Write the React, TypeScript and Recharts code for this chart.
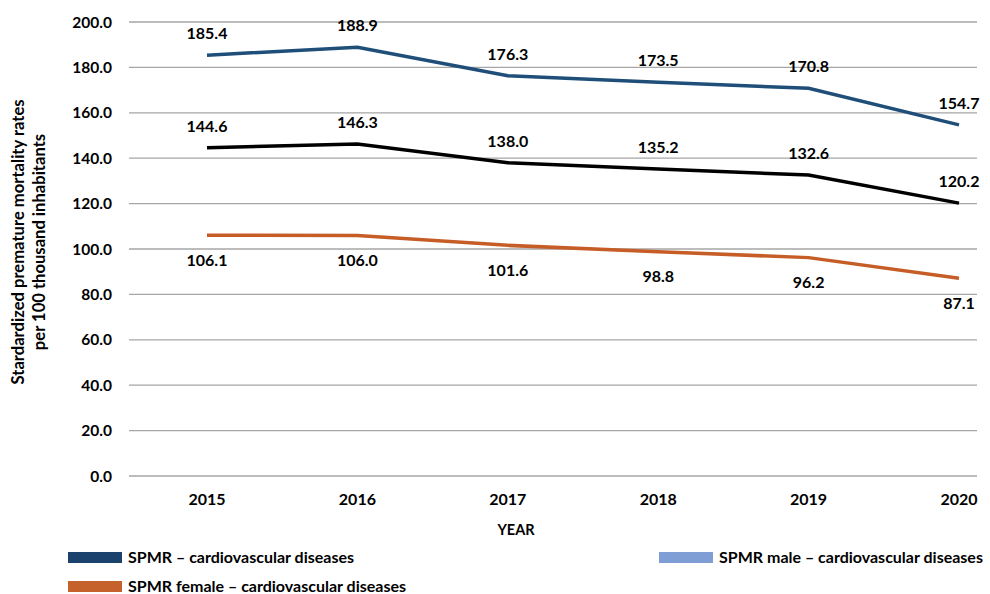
import React from "react";
import { LineChart, Line, XAxis, YAxis, CartesianGrid, Legend, LabelList } from "recharts";

const years = ["2015", "2016", "2017", "2018", "2019", "2020"];
const spmrTop = [185.4, 188.9, 176.3, 173.5, 170.8, 154.7];
const spmrMid = [144.6, 146.3, 138.0, 135.2, 132.6, 120.2];
const spmrFemale = [106.1, 106.0, 101.6, 98.8, 96.2, 87.1];
const yTicks = [0, 20, 40, 60, 80, 100, 120, 140, 160, 180, 200];

const legendItems = [
  { name: "SPMR \u2013 cardiovascular diseases", color: "#1B426D", left: 68, top: 0 },
  { name: "SPMR male \u2013 cardiovascular diseases", color: "#7F9ED5", left: 659, top: 0 },
  { name: "SPMR female \u2013 cardiovascular diseases", color: "#C5612A", left: 68, top: 29 },
];

const data = years.map((year, i) => ({
  year,
  top: spmrTop[i],
  mid: spmrMid[i],
  female: spmrFemale[i],
}));

const FONT = "Lato, 'Open Sans', sans-serif";
const fmt = (v: number) => v.toFixed(1);

const labelStyle = { fill: "#000", fontSize: 16, fontWeight: 700, fontFamily: FONT };

function YTitle() {
  return (
    <text
      transform="translate(0,242) rotate(-90)"
      textAnchor="middle"
      fontFamily={FONT}
      fontSize={16.6}
      fontWeight={700}
      fill="#000"
    >
      <tspan x={0} y={24}>Stardardized premature mortality rates</tspan>
      <tspan x={0} y={45}>per 100 thousand inhabitants</tspan>
    </text>
  );
}

function LegendBox() {
  return (
    <div style={{ position: "relative", width: 990, height: 44, fontFamily: FONT }}>
      {legendItems.map((it) => (
        <div
          key={it.name}
          style={{
            position: "absolute",
            left: it.left,
            top: it.top,
            display: "flex",
            alignItems: "center",
            fontSize: 16,
            fontWeight: 700,
            color: "#000",
            whiteSpace: "nowrap",
            lineHeight: "16px",
          }}
        >
          <span style={{ display: "inline-block", width: 54, height: 11, background: it.color, marginRight: 6 }} />
          {it.name}
        </div>
      ))}
    </div>
  );
}

export default function App() {
  return (
    <div style={{ position: "absolute", left: 0, top: 0, width: 990, height: 594, background: "#fff" }}>
      <LineChart width={990} height={594} data={data} margin={{ top: 22, right: 13, left: 0, bottom: 44 }}>
        <CartesianGrid vertical={false} stroke="#A6A6A6" strokeWidth={1.3} />
        <XAxis
          dataKey="year"
          axisLine={false}
          tickLine={false}
          tickSize={6}
          tickMargin={12}
          padding={{ left: 78, right: 18 }}
          tick={{ fill: "#000", fontSize: 16, fontWeight: 700, fontFamily: FONT }}
          label={{
            content: () => (
              <text x={516} y={535} textAnchor="middle" fontFamily={FONT} fontSize={14.5} fontWeight={700} fill="#000">
                YEAR
              </text>
            ),
          }}
        />
        <YAxis
          width={129}
          domain={[0, 200]}
          ticks={yTicks}
          tickFormatter={fmt}
          axisLine={false}
          tickLine={false}
          tickMargin={11}
          tick={{ fill: "#000", fontSize: 15.5, fontWeight: 700, fontFamily: FONT }}
          label={{ content: () => <YTitle /> }}
        />
        <Legend
          verticalAlign="bottom"
          wrapperStyle={{ left: 0, top: 549, width: 990 }}
          content={() => <LegendBox />}
        />
        <Line type="linear" dataKey="top" stroke="#1F4E79" strokeWidth={3.5} dot={false} isAnimationActive={false}>
          <LabelList dataKey="top" position="top" offset={16} formatter={fmt} {...labelStyle} />
        </Line>
        <Line type="linear" dataKey="mid" stroke="#000000" strokeWidth={3.5} dot={false} isAnimationActive={false}>
          <LabelList dataKey="mid" position="top" offset={16} formatter={fmt} {...labelStyle} />
        </Line>
        <Line type="linear" dataKey="female" stroke="#C65D27" strokeWidth={3.5} dot={false} isAnimationActive={false}>
          <LabelList dataKey="female" position="bottom" offset={19} formatter={fmt} {...labelStyle} />
        </Line>
      </LineChart>
    </div>
  );
}
